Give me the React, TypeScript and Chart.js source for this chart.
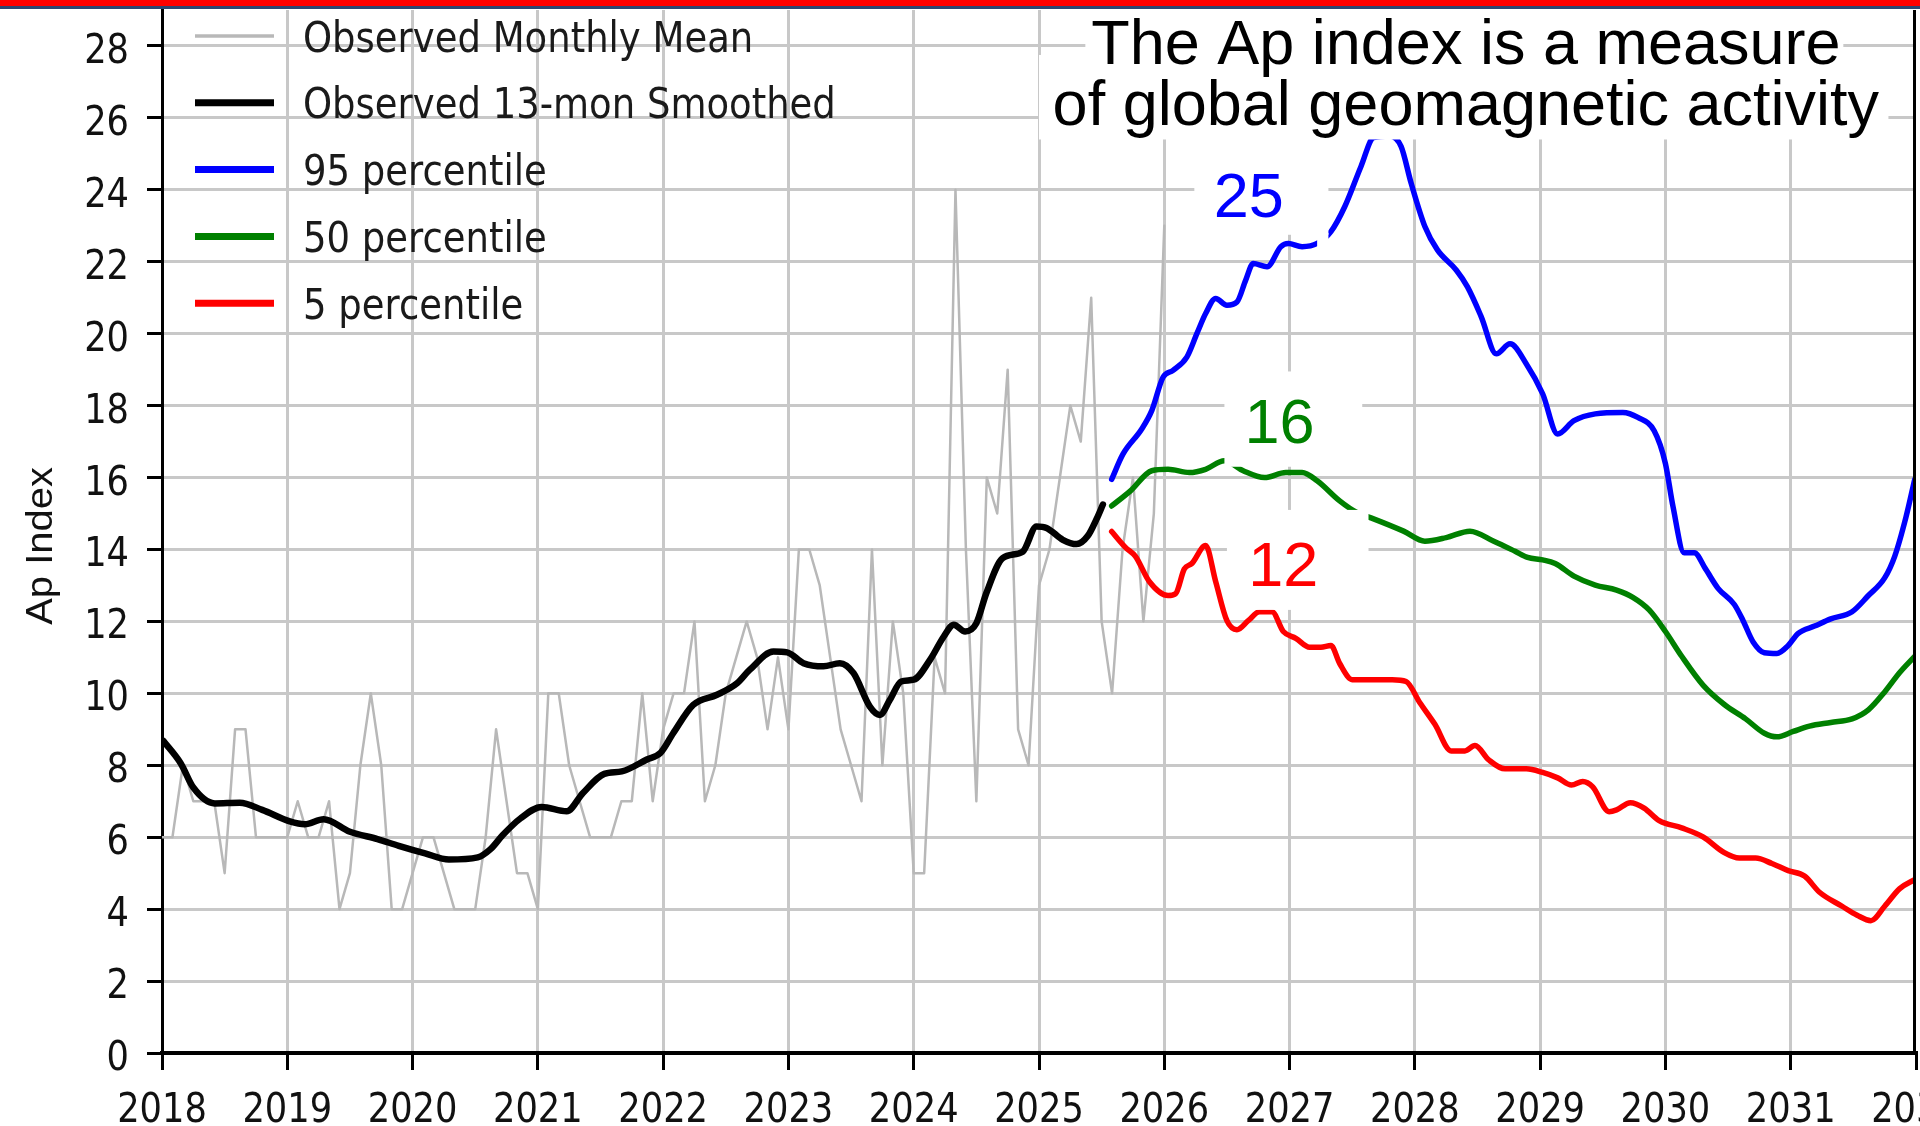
import React, { useEffect, useRef } from "react";
import { Chart, registerables } from "chart.js";

Chart.register(...registerables);

// ---------------- data ----------------
const MONTHLY_START = 2018; // first month: Jan 2018, one value per month
const monthlyAp = [
  6, 6, 8, 7, 7, 7, 5, 9, 9, 6, 6, 6,
  6, 7, 6, 6, 7, 4, 5, 8, 10, 8, 4, 4,
  5, 6, 6, 5, 4, 4, 4, 6, 9, 7, 5, 5,
  4, 10, 10, 8, 7, 6, 6, 6, 7, 7, 10, 7,
  9, 10, 10, 12, 7, 8, 10, 11, 12, 11, 9, 11,
  9, 14, 14, 13, 11, 9, 8, 7, 14, 8, 12, 10,
  5, 5, 11, 10, 24, 14, 7, 16, 15, 19, 9, 8,
  13, 14, 16, 18, 17, 21, 12, 10, 14, 16, 12, 15,
  23,
];

const smoothYears = [
  2018.01, 2018.15, 2018.25, 2018.42, 2018.62, 2018.8, 2019.02, 2019.14, 2019.29, 2019.5,
  2019.72, 2019.89, 2020.1, 2020.29, 2020.52, 2020.62, 2020.72, 2020.86, 2021.03, 2021.23,
  2021.36, 2021.53, 2021.67, 2021.87, 2021.98, 2022.08, 2022.24, 2022.43, 2022.59, 2022.69,
  2022.88, 2022.99, 2023.12, 2023.28, 2023.41, 2023.52, 2023.65, 2023.73, 2023.81, 2023.9,
  2024.0, 2024.13, 2024.24, 2024.32, 2024.41, 2024.5, 2024.58, 2024.71, 2024.87, 2024.98,
  2025.06, 2025.19, 2025.3, 2025.39, 2025.46, 2025.51,
];
const smoothAp = [
  8.68, 8.05, 7.38, 6.94, 6.96, 6.76, 6.44, 6.36, 6.5, 6.15,
  5.95, 5.76, 5.55, 5.38, 5.44, 5.66, 6.06, 6.52, 6.84, 6.72,
  7.23, 7.76, 7.83, 8.16, 8.35, 8.89, 9.68, 9.96, 10.28, 10.65,
  11.16, 11.14, 10.84, 10.75, 10.84, 10.56, 9.63, 9.4, 9.82, 10.33,
  10.38, 10.93, 11.58, 11.91, 11.72, 11.95, 12.79, 13.76, 13.94, 14.64,
  14.6, 14.27, 14.15, 14.38, 14.85, 15.25,
];

const p95Years = [
  2025.58, 2025.67, 2025.82, 2025.9, 2025.99, 2026.07, 2026.18, 2026.26, 2026.33, 2026.41,
  2026.5, 2026.58, 2026.65, 2026.71, 2026.82, 2026.93, 2026.99, 2027.1, 2027.22, 2027.33,
  2027.44, 2027.57, 2027.67, 2027.8, 2027.89, 2027.97, 2028.08, 2028.18, 2028.33, 2028.42,
  2028.53, 2028.65, 2028.76, 2028.89, 2029.02, 2029.14, 2029.27, 2029.44, 2029.66, 2029.78,
  2029.91, 2030.0, 2030.06, 2030.15, 2030.23, 2030.32, 2030.42, 2030.55, 2030.62, 2030.7,
  2030.79, 2030.89, 2030.98, 2031.06, 2031.19, 2031.32, 2031.49, 2031.62, 2031.75, 2031.83,
  2031.92, 2031.99,
];
const p95Ap = [
  15.95, 16.65, 17.35, 17.86, 18.79, 18.98, 19.35, 20.0, 20.56, 20.98,
  20.79, 20.88, 21.49, 21.95, 21.86, 22.42, 22.51, 22.42, 22.51, 22.84,
  23.53, 24.65, 25.45, 25.5, 25.21, 24.19, 22.98, 22.33, 21.77, 21.3,
  20.47, 19.44, 19.72, 19.16, 18.33, 17.21, 17.58, 17.77, 17.81, 17.67,
  17.3, 16.39, 15.2, 13.91, 13.91, 13.46, 12.92, 12.47, 12.02, 11.43,
  11.13, 11.11, 11.33, 11.67, 11.87, 12.07, 12.27, 12.72, 13.21, 13.81,
  14.9, 15.95,
];

const p50Years = [
  2025.58, 2025.73, 2025.9, 2026.03, 2026.2, 2026.33, 2026.48, 2026.63, 2026.8, 2026.97,
  2027.1, 2027.22, 2027.4, 2027.54, 2027.65, 2027.91, 2028.08, 2028.25, 2028.44, 2028.63,
  2028.8, 2028.9, 2029.02, 2029.12, 2029.27, 2029.44, 2029.61, 2029.74, 2029.87, 2030.0,
  2030.13, 2030.3, 2030.47, 2030.64, 2030.79, 2030.89, 2031.02, 2031.15, 2031.32, 2031.49,
  2031.62, 2031.75, 2031.87, 2031.99,
];
const p50Ap = [
  15.21, 15.63, 16.19, 16.23, 16.14, 16.23, 16.47, 16.19, 16.0, 16.14,
  16.14, 15.91, 15.35, 15.02, 14.88, 14.51, 14.23, 14.33, 14.51, 14.23,
  13.95, 13.78, 13.71, 13.61, 13.26, 13.01, 12.87, 12.67, 12.32, 11.72,
  11.03, 10.23, 9.69, 9.29, 8.89, 8.79, 8.94, 9.09, 9.19, 9.29,
  9.54, 10.04, 10.58, 11.03,
];

const p5Years = [
  2025.58, 2025.69, 2025.77, 2025.88, 2026.03, 2026.09, 2026.16, 2026.22, 2026.33, 2026.41,
  2026.5, 2026.58, 2026.67, 2026.76, 2026.86, 2026.95, 2027.05, 2027.16, 2027.25, 2027.33,
  2027.4, 2027.5, 2027.65, 2027.82, 2027.93, 2028.04, 2028.16, 2028.29, 2028.4, 2028.48,
  2028.59, 2028.72, 2028.89, 2029.02, 2029.14, 2029.25, 2029.34, 2029.42, 2029.55, 2029.61,
  2029.72, 2029.83, 2029.95, 2030.13, 2030.3, 2030.47, 2030.59, 2030.72, 2030.85, 2030.98,
  2031.11, 2031.23, 2031.41, 2031.53, 2031.64, 2031.75, 2031.87, 2031.99,
];
const p5Ap = [
  14.5, 14.06, 13.81, 13.11, 12.72, 12.77, 13.46, 13.61, 14.11, 13.11,
  12.02, 11.77, 12.02, 12.27, 12.27, 11.72, 11.53, 11.28, 11.28, 11.33,
  10.83, 10.38, 10.38, 10.38, 10.33, 9.74, 9.14, 8.4, 8.4, 8.55,
  8.15, 7.9, 7.9, 7.8, 7.65, 7.45, 7.55, 7.4, 6.71, 6.76,
  6.96, 6.81, 6.46, 6.26, 6.01, 5.57, 5.42, 5.42, 5.27, 5.07,
  4.92, 4.47, 4.08, 3.83, 3.68, 4.08, 4.57, 4.82,
];

const xTickYears = [2018, 2019, 2020, 2021, 2022, 2023, 2024, 2025, 2026, 2027, 2028, 2029, 2030, 2031, 2032];
const yTickValues = [0, 2, 4, 6, 8, 10, 12, 14, 16, 18, 20, 22, 24, 26, 28];

const seriesLabels = [
  "Observed Monthly Mean",
  "Observed 13-mon Smoothed",
  "95 percentile",
  "50 percentile",
  "5 percentile",
];

const titleLines = ["The Ap index is a measure", "of global geomagnetic activity"];

// value call-outs (anchored in data units)
const callouts = [
  { text: "25", color: "#0000ff", x: 2026.675, y: 23.25 },
  { text: "16", color: "#008000", x: 2026.92, y: 16.97 },
  { text: "12", color: "#ff0000", x: 2026.95, y: 12.99 },
];

// white masks behind the annotation texts (data units)
const maskBoxes = [
  { x0: 2025.37, x1: 2031.42, y0: 27.6, y1: 29.6 },
  { x0: 2025.0, x1: 2031.78, y0: 25.4, y1: 27.75 },
  { x0: 2026.24, x1: 2027.31, y0: 22.75, y1: 25.45 },
  { x0: 2027.22, x1: 2027.31, y0: 22.3, y1: 22.8 },
  { x0: 2026.48, x1: 2027.58, y0: 16.3, y1: 18.95 },
  { x0: 2026.5, x1: 2027.63, y0: 12.32, y1: 15.1 },
];

// ---------------- helpers ----------------
const pairs = (xs: number[], ys: number[]) => ys.map((v, i) => ({ x: xs[i], y: v }));
const monthlyPoints = monthlyAp.map((v, i) => ({ x: MONTHLY_START + i / 12, y: v }));

const SQUEEZE = 0.86;
const MPL_FONT = '"DejaVu Sans", "Noto Sans", sans-serif';
const ARIAL = '"Liberation Sans", Arial, sans-serif';
const GRID = "#c8c8c8";

function condensedText(ctx: CanvasRenderingContext2D, text: string, x: number, y: number, align: CanvasTextAlign) {
  ctx.save();
  ctx.translate(x, y);
  ctx.scale(SQUEEZE, 1);
  ctx.textAlign = align;
  ctx.textBaseline = "alphabetic";
  ctx.fillText(text, 0, 0);
  ctx.restore();
}

const decoPlugin = {
  id: "deco",
  afterDatasetsDraw(chart: any) {
    const { ctx, scales } = chart;
    const xs = scales.x;
    const ys = scales.y;
    ctx.save();
    ctx.fillStyle = "#ffffff";
    for (const b of maskBoxes) {
      const px0 = xs.getPixelForValue(b.x0);
      const px1 = xs.getPixelForValue(b.x1);
      const py0 = ys.getPixelForValue(b.y1);
      const py1 = ys.getPixelForValue(b.y0);
      ctx.fillRect(px0, py0, px1 - px0, py1 - py0);
    }
    // title
    ctx.fillStyle = "#000000";
    ctx.font = `63px ${ARIAL}`;
    ctx.textAlign = "center";
    ctx.textBaseline = "alphabetic";
    const tx = xs.getPixelForValue(2028.407);
    ctx.fillText(titleLines[0], tx, ys.getPixelForValue(27.51));
    ctx.fillText(titleLines[1], tx, ys.getPixelForValue(25.81));
    // call-outs
    for (const c of callouts) {
      ctx.fillStyle = c.color;
      ctx.fillText(c.text, xs.getPixelForValue(c.x), ys.getPixelForValue(c.y));
    }
    ctx.restore();
  },
  afterDraw(chart: any) {
    const { ctx, chartArea, scales } = chart;
    const xs = scales.x;
    const ys = scales.y;
    ctx.save();
    // right spine
    ctx.strokeStyle = "#000";
    ctx.lineWidth = 3;
    ctx.beginPath();
    ctx.moveTo(chartArea.right - 1.5, chartArea.top);
    ctx.lineTo(chartArea.right - 1.5, chartArea.bottom);
    ctx.stroke();

    // tick labels
    ctx.fillStyle = "#111";
    ctx.font = `41px ${MPL_FONT}`;
    for (const v of xTickYears) {
      condensedText(ctx, String(v), xs.getPixelForValue(v), chartArea.bottom + 69, "center");
    }
    for (const v of yTickValues) {
      condensedText(ctx, String(v), chartArea.left - 33, ys.getPixelForValue(v) + 17, "right");
    }

    // y-axis title
    ctx.save();
    ctx.font = `40px ${ARIAL}`;
    ctx.fillStyle = "#111";
    ctx.translate(chartArea.left - 120, ys.getPixelForValue(14.1));
    ctx.scale(0.9, 1);
    ctx.rotate(-Math.PI / 2);
    ctx.textAlign = "center";
    ctx.textBaseline = "middle";
    ctx.fillText("Ap Index", 0, 0);
    ctx.restore();

    // legend
    const ds = chart.data.datasets;
    ctx.font = `43px ${MPL_FONT}`;
    for (let i = 0; i < ds.length; i++) {
      const rowY = chartArea.top + 26 + i * 66.8;
      ctx.strokeStyle = ds[i].borderColor;
      ctx.lineWidth = i === 0 ? 3.5 : 7;
      ctx.lineCap = "butt";
      ctx.beginPath();
      ctx.moveTo(chartArea.left + 33, rowY);
      ctx.lineTo(chartArea.left + 112, rowY);
      ctx.stroke();
      ctx.fillStyle = "#1a1a1a";
      condensedText(ctx, ds[i].label, chartArea.left + 141, rowY + 15.5, "left");
    }

    // red banner at the top
    ctx.fillStyle = "#ff0000";
    ctx.fillRect(0, 0, chart.width, 6);
    ctx.fillStyle = "#2d4671";
    ctx.fillRect(0, 6, chart.width, 3);
    ctx.restore();
  },
};

export default function App() {
  const ref = useRef<HTMLCanvasElement>(null);

  useEffect(() => {
    const canvas = ref.current;
    if (!canvas) return;
    const chart = new Chart(canvas, {
      type: "line",
      data: {
        datasets: [
          {
            label: seriesLabels[0],
            data: monthlyPoints,
            borderColor: "#b8b8b8",
            borderWidth: 2.5,
            tension: 0,
            order: 10,
          },
          {
            label: seriesLabels[1],
            data: pairs(smoothYears, smoothAp),
            borderColor: "#000000",
            borderWidth: 6.5,
            cubicInterpolationMode: "monotone",
            order: 5,
          },
          {
            label: seriesLabels[2],
            data: pairs(p95Years, p95Ap),
            borderColor: "#0000ff",
            borderWidth: 5.5,
            cubicInterpolationMode: "monotone",
            order: 3,
          },
          {
            label: seriesLabels[3],
            data: pairs(p50Years, p50Ap),
            borderColor: "#008000",
            borderWidth: 5.5,
            cubicInterpolationMode: "monotone",
            order: 2,
          },
          {
            label: seriesLabels[4],
            data: pairs(p5Years, p5Ap),
            borderColor: "#ff0000",
            borderWidth: 5.5,
            cubicInterpolationMode: "monotone",
            order: 1,
          },
        ] as any,
      },
      options: {
        responsive: false,
        maintainAspectRatio: false,
        animation: false,
        devicePixelRatio: 1,
        parsing: false as any,
        normalized: true,
        layout: { padding: { left: 147, right: 4, top: 10, bottom: 56 } },
        elements: { point: { radius: 0 }, line: { borderCapStyle: "round", borderJoinStyle: "round" } },
        plugins: { legend: { display: false }, tooltip: { enabled: false }, title: { display: false } },
        scales: {
          x: {
            type: "linear",
            min: 2018,
            max: 2032,
            afterBuildTicks: (scale: any) => {
              scale.ticks = xTickYears.map((v) => ({ value: v }));
            },
            ticks: { display: false },
            grid: {
              color: (c: any) => (c.tick && (c.tick.value === 2018 || c.tick.value === 2032) ? "rgba(0,0,0,0)" : GRID),
              lineWidth: 3,
              tickColor: "#000000",
              tickLength: 17,
              tickWidth: 3,
            },
            border: { display: true, color: "#000000", width: 4 },
          },
          y: {
            type: "linear",
            min: 0,
            max: 29,
            afterBuildTicks: (scale: any) => {
              scale.ticks = yTickValues.map((v) => ({ value: v }));
            },
            ticks: { display: false },
            grid: {
              color: (c: any) => (c.tick && c.tick.value === 0 ? "rgba(0,0,0,0)" : GRID),
              lineWidth: 3,
              tickColor: "#000000",
              tickLength: 15,
              tickWidth: 3,
            },
            border: { display: true, color: "#000000", width: 3 },
          },
        },
      } as any,
      plugins: [decoPlugin],
    });
    return () => chart.destroy();
  }, []);

  return (
    <div style={{ position: "absolute", left: 0, top: 0, width: 1920, height: 1126, background: "#ffffff" }}>
      <canvas ref={ref} width={1920} height={1126} style={{ display: "block" }} />
    </div>
  );
}
